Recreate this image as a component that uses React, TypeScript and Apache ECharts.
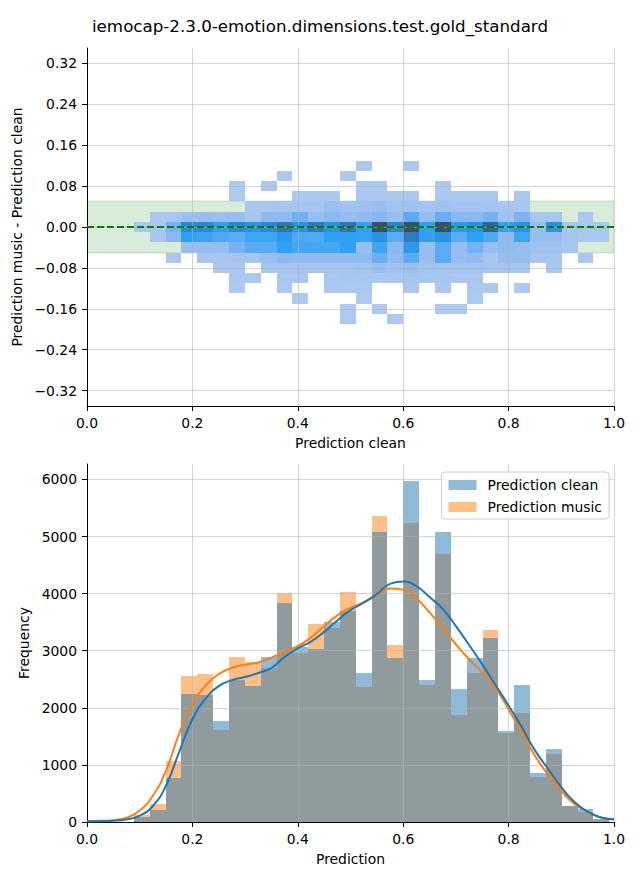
import React, { useEffect, useRef } from 'react';
import * as echarts from 'echarts';

const FONT = 'DejaVu Sans';
const TITLE = 'iemocap-2.3.0-emotion.dimensions.test.gold_standard';

// shared histogram bins (30 bins)
const BIN_START = 0.089;
const BIN_WIDTH = 0.03007;

// bottom panel: histogram counts per bin
const CLEAN_COUNTS = [80, 216, 776, 2245, 2227, 1773, 2484, 2385, 2892, 3837, 3073, 3032, 3504, 3697, 2612, 5079, 2880, 5971, 2490, 5079, 2332, 2869, 3224, 1598, 2402, 863, 1283, 286, 233, 50];
const MUSIC_COUNTS = [128, 321, 1073, 2560, 2595, 1615, 2892, 2805, 2700, 4006, 2968, 3469, 3405, 4029, 2356, 5359, 3102, 5236, 2391, 4694, 1878, 2612, 3364, 1563, 1913, 781, 1184, 274, 181, 40];

// KDE curves read at these x positions
const KDE_X = [0, 0.025, 0.05, 0.075, 0.1, 0.125, 0.15, 0.175, 0.2, 0.225, 0.25, 0.275, 0.3, 0.325, 0.35, 0.375, 0.4, 0.425, 0.45, 0.475, 0.5, 0.525, 0.55, 0.575, 0.6, 0.625, 0.65, 0.675, 0.7, 0.725, 0.75, 0.775, 0.8, 0.825, 0.85, 0.875, 0.9, 0.925, 0.95, 0.975, 1.0];
const CLEAN_KDE = [12, 15, 22, 45, 110, 280, 640, 1230, 1800, 2160, 2380, 2485, 2540, 2610, 2700, 2890, 3040, 3160, 3330, 3530, 3710, 3840, 3990, 4170, 4210, 4130, 3940, 3730, 3430, 3100, 2760, 2400, 2040, 1660, 1255, 930, 610, 350, 180, 80, 47];
const MUSIC_KDE = [15, 20, 32, 75, 200, 460, 900, 1550, 2060, 2390, 2590, 2700, 2755, 2795, 2880, 2980, 3080, 3230, 3430, 3620, 3750, 3850, 3970, 4090, 4070, 3920, 3670, 3400, 3110, 2850, 2620, 2350, 1970, 1570, 1160, 830, 545, 315, 178, 80, 47];

// top panel: 2D histogram, row centres (bin height 0.02) and counts per x bin
const HM_Y_CENTERS = [0.12, 0.10, 0.08, 0.06, 0.04, 0.02, 0.0, -0.02, -0.04, -0.06, -0.08, -0.10, -0.12, -0.14, -0.16, -0.18];
const HM_Y_HALF = 0.01;
const HM_ROWS = [
  [0, 0, 0, 0, 0, 0, 0, 0, 0, 0, 0, 0, 0, 0, 10, 0, 0, 10, 0, 0, 0, 0, 0, 0, 0, 0, 0, 0, 0, 0],
  [0, 0, 0, 0, 0, 0, 0, 0, 0, 10, 0, 0, 0, 10, 0, 0, 0, 0, 0, 0, 0, 0, 0, 0, 0, 0, 0, 0, 0, 0],
  [0, 0, 0, 0, 0, 0, 15, 0, 10, 0, 0, 0, 0, 0, 15, 15, 0, 0, 0, 15, 0, 0, 0, 0, 0, 0, 0, 0, 0, 0],
  [0, 0, 0, 0, 0, 0, 20, 0, 0, 0, 25, 25, 25, 0, 30, 30, 30, 30, 0, 30, 30, 30, 30, 0, 25, 0, 0, 0, 0, 0],
  [0, 0, 0, 0, 0, 0, 0, 40, 50, 60, 70, 60, 160, 120, 130, 170, 110, 120, 90, 130, 100, 100, 110, 60, 50, 0, 0, 0, 0, 0],
  [0, 40, 50, 160, 180, 170, 180, 60, 260, 260, 420, 180, 280, 200, 240, 300, 180, 540, 200, 480, 280, 280, 400, 120, 360, 50, 50, 0, 30, 0],
  [30, 50, 400, 1150, 1150, 800, 1150, 1000, 1150, 1500, 1000, 1400, 1000, 1500, 760, 2000, 1240, 2000, 760, 2000, 880, 1000, 1700, 760, 1000, 180, 1000, 50, 40, 40],
  [0, 50, 280, 760, 700, 600, 540, 680, 680, 880, 620, 580, 760, 760, 720, 1000, 540, 1360, 760, 1000, 540, 760, 600, 240, 680, 180, 180, 90, 40, 40],
  [0, 0, 0, 180, 180, 200, 400, 540, 540, 760, 640, 640, 640, 760, 180, 680, 280, 880, 180, 540, 180, 400, 180, 240, 180, 120, 120, 50, 0, 0],
  [0, 0, 40, 0, 60, 60, 80, 80, 150, 260, 240, 240, 240, 240, 240, 460, 240, 540, 180, 540, 180, 240, 60, 180, 180, 60, 60, 0, 30, 0],
  [0, 0, 0, 0, 0, 40, 40, 0, 60, 80, 80, 80, 80, 80, 100, 160, 120, 160, 110, 100, 90, 90, 80, 80, 70, 0, 40, 0, 0, 0],
  [0, 0, 0, 0, 0, 0, 30, 30, 0, 30, 30, 0, 40, 50, 50, 40, 40, 60, 50, 60, 40, 40, 0, 0, 0, 0, 0, 0, 0, 0],
  [0, 0, 0, 0, 0, 0, 20, 0, 0, 20, 0, 0, 30, 30, 30, 0, 0, 30, 0, 30, 0, 25, 25, 0, 20, 0, 0, 0, 0, 0],
  [0, 0, 0, 0, 0, 0, 0, 0, 0, 0, 15, 0, 0, 0, 20, 0, 0, 0, 0, 0, 0, 15, 0, 0, 0, 0, 0, 0, 0, 0],
  [0, 0, 0, 0, 0, 0, 0, 0, 0, 0, 0, 0, 0, 15, 0, 15, 0, 0, 0, 15, 15, 0, 0, 0, 0, 0, 0, 0, 0, 0],
  [0, 0, 0, 0, 0, 0, 0, 0, 0, 0, 0, 0, 0, 10, 0, 0, 10, 0, 0, 0, 0, 0, 0, 0, 0, 0, 0, 0, 0, 0],
];
const HM_MAX = 2000;
const HM_COLORS = ['#aecaef', '#8fbaf1', '#62adf5', '#2fa2f4', '#2a92e0', '#2c82c8', '#3372ad', '#386090', '#3b4e68'];

// ticks
const X_TICKS = [0, 0.2, 0.4, 0.6, 0.8, 1.0];
const TOP_Y_TICKS = [-0.32, -0.24, -0.16, -0.08, 0, 0.08, 0.16, 0.24, 0.32];
const BOTTOM_Y_TICKS = [0, 1000, 2000, 3000, 4000, 5000, 6000];
const TOP_Y_RANGE = [-0.35, 0.35];
const BOTTOM_Y_RANGE = [0, 6270];
const BAND = [-0.05, 0.05];

const binLeft = (i: number) => BIN_START + i * BIN_WIDTH;

const heatData: number[][] = [];
HM_ROWS.forEach((row, r) => {
  row.forEach((c, i) => {
    if (c > 0) heatData.push([binLeft(i), binLeft(i + 1), HM_Y_CENTERS[r] - HM_Y_HALF, HM_Y_CENTERS[r] + HM_Y_HALF, c]);
  });
});
const cleanBars = CLEAN_COUNTS.map((c, i) => [binLeft(i), binLeft(i + 1), c]);
const musicBars = MUSIC_COUNTS.map((c, i) => [binLeft(i), binLeft(i + 1), c]);

const rectItem = (api: any, x0: number, x1: number, y0: number, y1: number, style: any) => {
  const p0 = api.coord([x0, y1]);
  const p1 = api.coord([x1, y0]);
  const ax = Math.round(p0[0]);
  const ay = Math.round(p0[1]);
  const bx = Math.round(p1[0]);
  const by = Math.round(p1[1]);
  return { type: 'rect', shape: { x: ax, y: ay, width: bx - ax, height: by - ay }, style };
};

const fmtMinus = (s: string) => s.replace('-', '\u2212');

const textStyle = { color: '#000', fontSize: 13.9, fontFamily: FONT };
const gridLine = { show: true, lineStyle: { color: 'rgba(176,176,176,0.55)', width: 1 } };
const axisLine = { show: true, onZero: false, lineStyle: { color: '#000', width: 1 } };

const xAxisFor = (gridIndex: number, name: string) => ({
  type: 'value',
  gridIndex,
  min: 0,
  max: 1,
  z: 3,
  name,
  nameLocation: 'middle',
  nameGap: 30,
  nameTextStyle: textStyle,
  axisLine,
  axisTick: { show: true, length: 5, customValues: X_TICKS, lineStyle: { color: '#000', width: 1 } },
  axisLabel: { ...textStyle, margin: 10, customValues: X_TICKS, formatter: (v: number) => v.toFixed(1) },
  splitLine: gridLine,
});

const option: any = {
  animation: false,
  backgroundColor: '#fff',
  title: {
    text: TITLE,
    left: 'center',
    top: 17.5,
    padding: 0,
    textStyle: { color: '#000', fontSize: 16.7, fontWeight: 'normal', fontFamily: FONT },
  },
  grid: [
    { left: 87, top: 48, width: 527, height: 358 },
    { left: 87, top: 464, width: 527, height: 358 },
  ],
  xAxis: [xAxisFor(0, 'Prediction clean'), xAxisFor(1, 'Prediction')],
  yAxis: [
    {
      type: 'value',
      gridIndex: 0,
      min: TOP_Y_RANGE[0],
      max: TOP_Y_RANGE[1],
      z: 3,
      name: 'Prediction music - Prediction clean',
      nameLocation: 'middle',
      nameGap: 59,
      nameTextStyle: textStyle,
      axisLine,
      axisTick: { show: true, length: 5, customValues: TOP_Y_TICKS, lineStyle: { color: '#000', width: 1 } },
      axisLabel: { ...textStyle, margin: 10, customValues: TOP_Y_TICKS, formatter: (v: number) => fmtMinus(v.toFixed(2)) },
      splitLine: gridLine,
    },
    {
      type: 'value',
      gridIndex: 1,
      min: BOTTOM_Y_RANGE[0],
      max: BOTTOM_Y_RANGE[1],
      z: 3,
      name: 'Frequency',
      nameLocation: 'middle',
      nameGap: 51,
      nameTextStyle: textStyle,
      axisLine,
      axisTick: { show: true, length: 5, customValues: BOTTOM_Y_TICKS, lineStyle: { color: '#000', width: 1 } },
      axisLabel: { ...textStyle, margin: 10, customValues: BOTTOM_Y_TICKS, formatter: (v: number) => String(Math.round(v)) },
      splitLine: gridLine,
    },
  ],
  visualMap: {
    type: 'continuous',
    show: false,
    min: 0,
    max: HM_MAX,
    dimension: 4,
    seriesIndex: 1,
    inRange: { color: HM_COLORS },
  },
  legend: {
    data: [
      { name: 'Prediction clean', itemStyle: { color: '#8fbbd9', borderWidth: 0 } },
      { name: 'Prediction music', itemStyle: { color: '#ffbf86', borderWidth: 0 } },
    ],
    orient: 'vertical',
    right: 31,
    top: 472,
    itemWidth: 28,
    itemHeight: 10,
    itemGap: 8,
    icon: 'rect',
    selectedMode: false,
    backgroundColor: 'rgba(255,255,255,0.8)',
    borderColor: '#cccccc',
    borderWidth: 1,
    borderRadius: 3,
    padding: [6, 7, 5, 7],
    textStyle: { ...textStyle, padding: [0, 0, 0, 6] },
  },
  series: [
    {
      type: 'custom',
      name: 'band',
      xAxisIndex: 0,
      yAxisIndex: 0,
      z: 1,
      clip: true,
      data: [[0, 1, BAND[0], BAND[1]]],
      renderItem: (params: any, api: any) =>
        rectItem(api, api.value(0), api.value(1), api.value(2), api.value(3), {
          fill: 'rgba(0,128,0,0.15)',
          stroke: 'rgba(0,128,0,0.18)',
          lineWidth: 1,
        }),
    },
    {
      type: 'custom',
      name: 'heat',
      xAxisIndex: 0,
      yAxisIndex: 0,
      z: 2,
      clip: true,
      data: heatData,
      renderItem: (params: any, api: any) =>
        rectItem(api, api.value(0), api.value(1), api.value(2), api.value(3), { fill: api.visual('color') }),
    },
    {
      type: 'line',
      name: 'zero',
      xAxisIndex: 0,
      yAxisIndex: 0,
      z: 5,
      showSymbol: false,
      symbol: 'none',
      data: [[0, 0], [1, 0]],
      lineStyle: { color: '#008000', width: 2.2, type: [7, 3] },
    },
    {
      type: 'custom',
      name: 'Prediction music',
      xAxisIndex: 1,
      yAxisIndex: 1,
      z: 2,
      clip: true,
      itemStyle: { color: '#ff7f0e' },
      data: musicBars,
      renderItem: (params: any, api: any) =>
        rectItem(api, api.value(0), api.value(1), 0, api.value(2), { fill: '#ff7f0e', opacity: 0.5 }),
    },
    {
      type: 'custom',
      name: 'Prediction clean',
      xAxisIndex: 1,
      yAxisIndex: 1,
      z: 2,
      clip: true,
      itemStyle: { color: '#1f77b4' },
      data: cleanBars,
      renderItem: (params: any, api: any) =>
        rectItem(api, api.value(0), api.value(1), 0, api.value(2), { fill: '#1f77b4', opacity: 0.5 }),
    },
    {
      type: 'line',
      name: 'kde music',
      xAxisIndex: 1,
      yAxisIndex: 1,
      z: 5,
      smooth: 0.5,
      showSymbol: false,
      symbol: 'none',
      data: KDE_X.map((x, i) => [x, MUSIC_KDE[i]]),
      lineStyle: { color: '#ff7f0e', width: 2 },
    },
    {
      type: 'line',
      name: 'kde clean',
      xAxisIndex: 1,
      yAxisIndex: 1,
      z: 5,
      smooth: 0.5,
      showSymbol: false,
      symbol: 'none',
      data: KDE_X.map((x, i) => [x, CLEAN_KDE[i]]),
      lineStyle: { color: '#1f77b4', width: 2 },
    },
  ],
};

export default function App() {
  const ref = useRef<HTMLDivElement>(null);
  useEffect(() => {
    document.body.style.margin = '0';
    const chart = echarts.init(ref.current as HTMLDivElement, null, { renderer: 'svg' });
    chart.setOption(option);
    return () => {
      chart.dispose();
    };
  }, []);
  return <div ref={ref} style={{ width: 640, height: 880 }} />;
}
